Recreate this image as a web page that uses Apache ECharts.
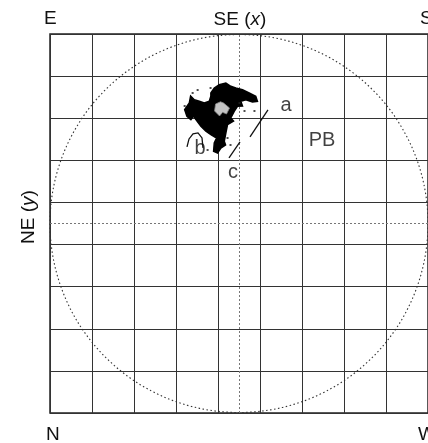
<!DOCTYPE html>
<html><head><meta charset="utf-8">
<script src="https://cdn.jsdelivr.net/npm/echarts@6/dist/echarts.min.js"></script>
<style>html,body{margin:0;padding:0;background:#fff}#c{width:428px;height:443px}</style>
</head><body><div id="c"></div>
<script>
// grid extent (cells)
const axisMin = 0, axisMax = 9, axisStep = 1;
const midLine = 4.5;
// dotted boundary circle: [cx, cy, r]
const boundaryCircle = [4.5, 4.5, 4.5];
// outline of the particle's covered area (blob)
const blobOutline = [
  [3.830,7.599],[3.911,7.718],[4.030,7.796],[4.187,7.837],[4.305,7.758],[4.424,7.718],
  [4.583,7.677],[4.742,7.599],[4.899,7.521],[4.939,7.402],[4.821,7.385],[4.662,7.440],
  [4.543,7.402],[4.583,7.290],[4.464,7.283],[4.386,7.164],[4.305,7.005],[4.370,6.934],
  [4.227,6.846],[4.187,6.649],[4.149,6.452],[4.180,6.364],[4.068,6.293],[3.990,6.174],
  [3.895,6.215],[3.911,6.412],[3.966,6.530],[3.830,6.609],[3.712,6.690],[3.593,6.808],
  [3.474,6.965],[3.420,7.053],[3.355,6.965],[3.260,7.046],[3.206,7.203],[3.317,7.362],
  [3.348,7.528],[3.436,7.440],[3.555,7.402],[3.674,7.362],[3.792,7.402],[3.830,7.521]
];
// light patch inside the blob
const blobHole = [
  [3.942,7.338],[4.060,7.390],[4.132,7.362],[4.274,7.243],[4.203,7.100],[4.110,7.140],
  [4.037,7.053],[3.918,7.172]
];
// isolated specks around the blob
const specks = [
  [3.823,7.718],[3.396,7.599],[3.206,7.290],[4.512,7.362],[4.631,7.172],
  [4.227,6.530],[4.298,6.364],[3.752,6.245],[3.515,7.670],[4.868,7.172]
];
// arrows
const arrowA = [[4.762,6.556],[5.190,7.197]];
const arrowC = [[4.524,6.437],[4.262,6.057]];
const arrowB = [[3.643,6.295],[3.619,6.532],[3.524,6.651],[3.405,6.627],[3.310,6.508],[3.262,6.318]];
// in-plot labels
const labelNames = ['a','PB','b','c'];
const labelX = [5.619, 6.476, 3.571, 4.357];
const labelY = [7.292, 6.461, 6.271, 5.701];
// outer direction labels
const topLabels = ['E','SE (x)','S'];
const bottomLabels = ['N','W'];
const sideLabel = 'NE (y)';

const FONT = '"Liberation Sans", Arial, sans-serif';
const chart = echarts.init(document.getElementById('c'));
const gl = 50, gt = 34, gw = 379, gh = 379;
const ink = '#111';
chart.setOption({
  animation:false,
  backgroundColor:'#fff',
  grid:{left:gl, top:gt, width:gw, height:gh, show:true, borderColor:'#222', borderWidth:1.5, backgroundColor:'transparent'},
  xAxis:{type:'value', min:axisMin, max:axisMax, interval:axisStep,
    axisLine:{show:false}, axisTick:{show:false}, axisLabel:{show:false},
    splitLine:{show:true, lineStyle:{color:'#333', width:1}}},
  yAxis:{type:'value', min:axisMin, max:axisMax, interval:axisStep,
    axisLine:{show:false}, axisTick:{show:false}, axisLabel:{show:false},
    splitLine:{show:true, lineStyle:{color:'#333', width:1}}},
  graphic:[
    {type:'text', left:gl-6, top:9, style:{text:topLabels[0], font:'19px '+FONT, fill:ink}},
    {type:'text', x:240, y:20, style:{text:'{n|SE (}{i|x}{n|)}', rich:{n:{font:'19px '+FONT, fill:ink},i:{font:'italic 19px '+FONT, fill:ink}}, align:'center', verticalAlign:'middle'}},
    {type:'text', x:420, y:9, style:{text:topLabels[2], font:'19px '+FONT, fill:ink}},
    {type:'text', x:46, y:425, style:{text:bottomLabels[0], font:'19px '+FONT, fill:ink}},
    {type:'text', x:418, y:425, style:{text:bottomLabels[1], font:'19px '+FONT, fill:ink}},
    {type:'text', x:29, y:217, rotation:Math.PI/2, style:{text:'{n|NE (}{i|y}{n|)}', rich:{n:{font:'19px '+FONT, fill:ink},i:{font:'italic 19px '+FONT, fill:ink}}, align:'center', verticalAlign:'middle'}}
  ],
  series:[
    {type:'line', data:[], silent:true,
      markLine:{symbol:'none', silent:true, label:{show:false},
        lineStyle:{color:'#777', type:[2,2], width:1},
        data:[{xAxis:midLine},{yAxis:midLine}]}},
    {type:'custom', silent:true, z:3, data:[boundaryCircle],
      renderItem:function(params, api){
        const c = api.coord([api.value(0), api.value(1)]);
        const r = api.size([api.value(2), 0])[0];
        return {type:'circle', shape:{cx:c[0], cy:c[1], r:r},
          style:{fill:'none', stroke:'#333', lineWidth:1.1, lineDash:[1.5,2.5]}};
      }},
    {type:'custom', silent:true, z:5, data:[[0,0]],
      renderItem:function(params, api){
        const outer = blobOutline.map(p=>api.coord(p));
        const hole = blobHole.map(p=>api.coord(p));
        return {type:'group', children:[
          {type:'polygon', shape:{points:outer}, style:{fill:'#000', stroke:'#000', lineWidth:1.5, lineJoin:'miter'}},
          {type:'polygon', shape:{points:hole}, style:{fill:'#c4c4c4', stroke:'#888', lineWidth:0.8}}
        ]};
      }},
    {type:'scatter', data:specks, symbol:'rect', symbolSize:2, z:5, silent:true,
      itemStyle:{color:'#222'}},
    {type:'lines', coordinateSystem:'cartesian2d', polyline:true, z:6,
      symbol:['none','arrow'], symbolSize:7,
      lineStyle:{color:'#111', width:1.3, opacity:1},
      data:[{coords:arrowA},{coords:arrowC},{coords:arrowB}]},
    {type:'scatter', symbolSize:0, z:7,
      data:labelNames.map((n,i)=>[labelX[i], labelY[i], n]),
      label:{show:true, position:'inside', formatter:p=>p.value[2],
        color:ink, fontFamily:FONT, fontSize:20}}
  ]
});
</script></body></html>
